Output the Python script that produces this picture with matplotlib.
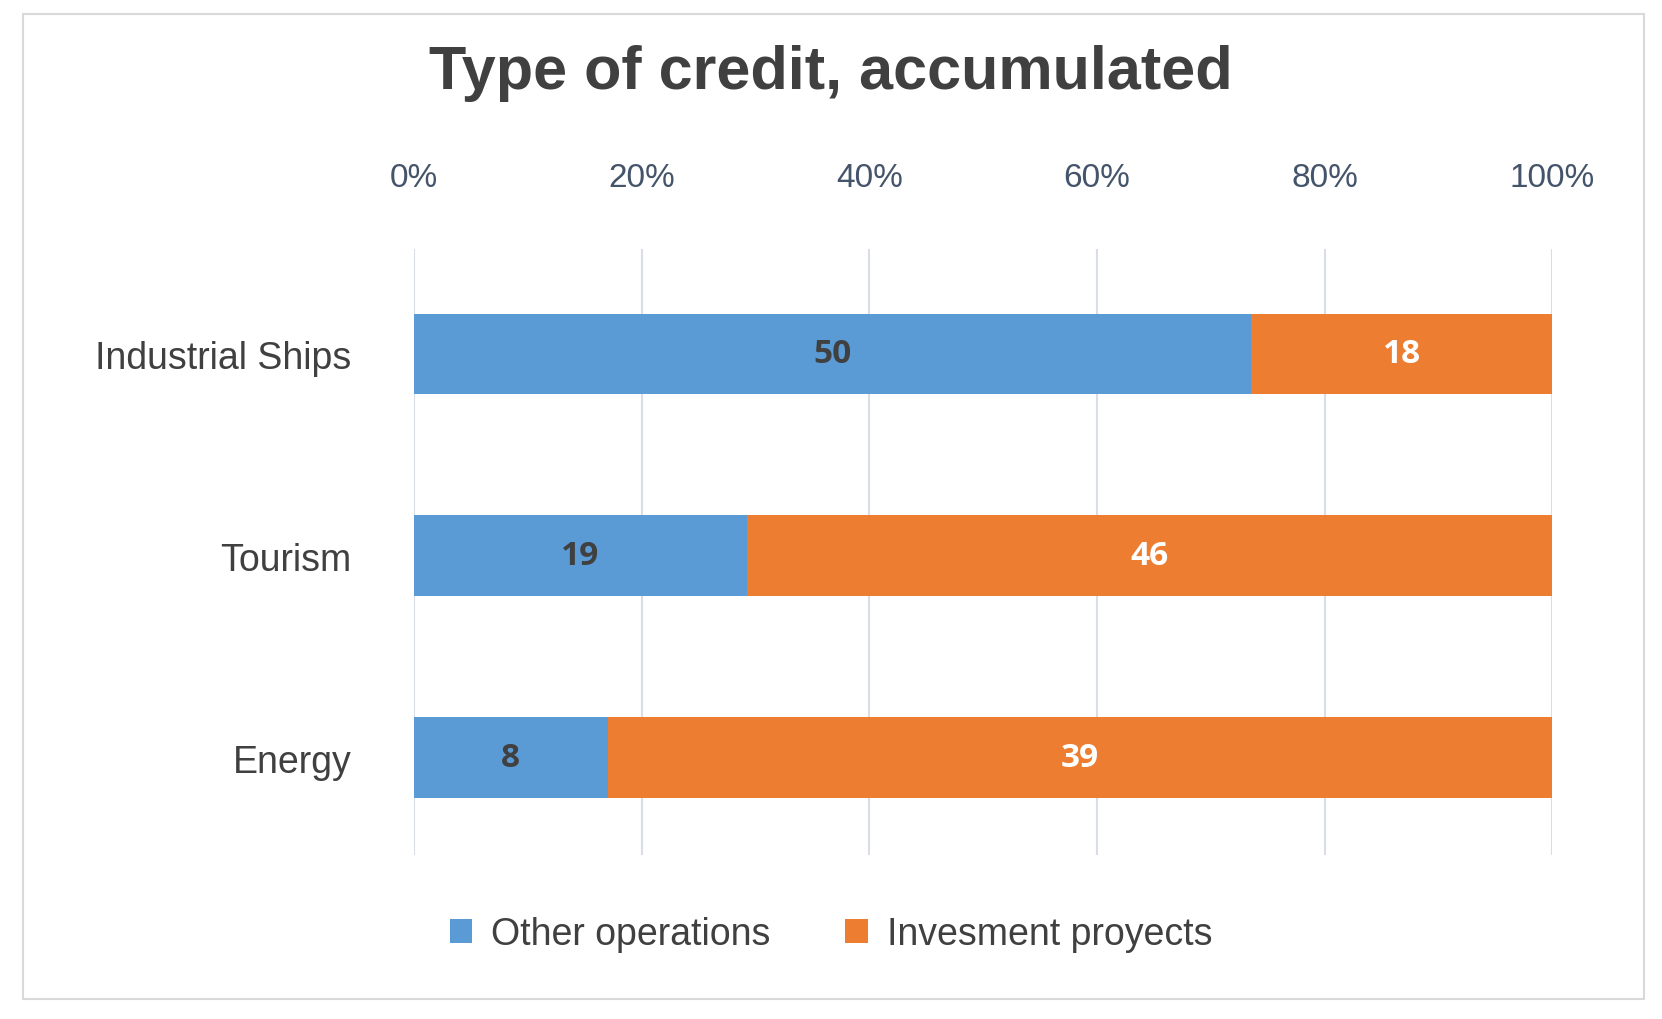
import matplotlib.pyplot as plt
from matplotlib.patches import Rectangle
import numpy as np

categories = ['Industrial Ships', 'Tourism', 'Energy']
other_ops = [50, 19, 8]
invest = [18, 46, 39]

blue = '#5B9BD5'
orange = '#ED7D31'

plt.rcParams['font.family'] = ['Liberation Sans', 'DejaVu Sans']

fig = plt.figure(figsize=(16.62, 10.2), dpi=100)
fig.patches.append(Rectangle((0.014, 0.02), 0.975, 0.965, transform=fig.transFigure,
                             fill=False, edgecolor='#D9D9D9', linewidth=1.5))

ax = fig.add_axes([0.249, 0.161, 0.685, 0.594])
other = np.array(other_ops, dtype=float)
inv = np.array(invest, dtype=float)
tot = other + inv
p_other = other / tot * 100
p_inv = inv / tot * 100
y = np.arange(len(categories))

ax.barh(y, p_other, height=0.4, color=blue, label='Other operations', zorder=2)
ax.barh(y, p_inv, left=p_other, height=0.4, color=orange, label='Invesment proyects', zorder=2)

for i in range(len(categories)):
    ax.text(p_other[i] / 2, y[i], str(other_ops[i]), ha='center', va='center',
            fontsize=24, fontweight='bold', color='#404040', family='Open Sans', zorder=3)
    ax.text(p_other[i] + p_inv[i] / 2, y[i], str(invest[i]), ha='center', va='center',
            fontsize=24, fontweight='bold', color='white', family='Open Sans', zorder=3)

ax.set_xlim(0, 100)
ax.set_ylim(2.48, -0.52)
ax.set_xticks(range(0, 101, 20))
ax.set_xticklabels([f'{v}%' for v in range(0, 101, 20)])
ax.xaxis.tick_top()
ax.tick_params(axis='x', length=0, pad=40, labelsize=24, labelcolor='#44546A')
ax.set_yticks(y)
ax.set_yticklabels(categories)
ax.tick_params(axis='y', length=0, pad=45, labelsize=27, labelcolor='#404040')
ax.grid(axis='x', color='#D9DEE6', linewidth=1.5, zorder=0)
for s in ax.spines.values():
    s.set_visible(False)

fig.text(0.5, 0.928, 'Type of credit, accumulated', ha='center', va='center',
         fontsize=44, fontweight='bold', color='#404040')

fig.legend(loc='center', bbox_to_anchor=(0.5, 0.083), ncol=2, frameon=False,
           fontsize=27, labelcolor='#404040', handlelength=0.6, handleheight=0.6,
           columnspacing=2.0, handletextpad=0.5)

fig.savefig('out.png', dpi=100)
